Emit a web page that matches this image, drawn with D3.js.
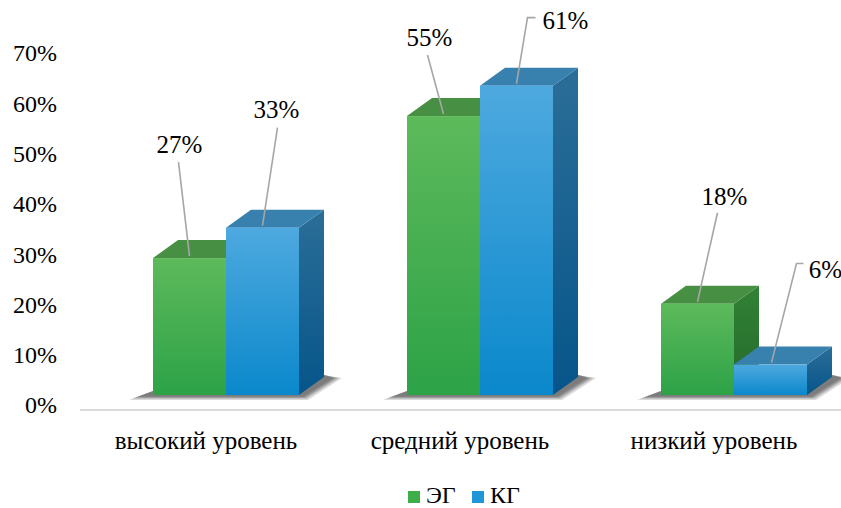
<!DOCTYPE html>
<html><head><meta charset="utf-8">
<script src="https://cdn.jsdelivr.net/npm/d3@7"></script>
</head><body style="margin:0">
<svg id="c" width="841" height="508"></svg>
<script>
const categories = ["высокий уровень", "средний уровень", "низкий уровень"];
const seriesNames = ["ЭГ", "КГ"];
const valuesEG = [27, 55, 18];
const valuesKG = [33, 61, 6];
const valueLabels = [["27%","55%","18%"],["33%","61%","6%"]];
const tickValues = [0,10,20,30,40,50,60,70];

const svg = d3.select("#c");
const W = 841, H = 508;
const depthX = 25, depthY = -18;

const yBar = d3.scaleLinear().domain([0,70]).range([395, 40]);
const yAxis = d3.scaleLinear().domain([0,70]).range([405, 53]);
const xCat = d3.scalePoint().domain(categories).range([226, 734]);
const xSer = d3.scaleBand().domain(seriesNames).range([-73, 73]);

const defs = svg.append("defs");
function grad(id, c1, c2){
  const g = defs.append("linearGradient").attr("id",id).attr("x1",0).attr("y1",0).attr("x2",0).attr("y2",1);
  g.append("stop").attr("offset","0%").attr("stop-color",c1);
  g.append("stop").attr("offset","100%").attr("stop-color",c2);
}
grad("gFront","#5dba5b","#2da247");
grad("bFront","#4ea9df","#0a88cb");
grad("gSide","#318236","#246a2b");
grad("bSide","#2b6e98","#06558a");

const styles = {
  "ЭГ": {front:"url(#gFront)", top:"#478f43", side:"url(#gSide)", legend:"#3cae4a"},
  "КГ": {front:"url(#bFront)", top:"#3881af", side:"url(#bSide)", legend:"#1e96d8"}
};

svg.append("line").attr("x1",80).attr("x2",W).attr("y1",410).attr("y2",410)
  .attr("stroke","#d9d9d9").attr("stroke-width",2);

svg.append("g").selectAll("text").data(tickValues).join("text")
  .style("font-family",'"Liberation Serif"')
  .attr("x",57).attr("y",d=>yAxis(d)).attr("dy","0.35em")
  .attr("text-anchor","end").attr("font-size",24).text(d=>d+"%");

const bars = [];
categories.forEach((c,i)=>{
  bars.push({cat:c, ser:"ЭГ", v:valuesEG[i], lab:valueLabels[0][i], i, s:0});
  bars.push({cat:c, ser:"КГ", v:valuesKG[i], lab:valueLabels[1][i], i, s:1});
});

// soft shadows (layered, no filter)
categories.forEach(c=>{
  const x0 = xCat(c) + xSer("ЭГ"), x1 = xCat(c) + xSer("КГ") + xSer.bandwidth();
  const yb = yBar(0);
  [10,7,5,3,1].forEach(e=>{
    svg.append("path")
      .attr("d",`M${x0-14-e},${yb+1+e*0.4} L${x1+4+e*0.5},${yb+1+e*0.4} L${x1+depthX+8+e},${yb+depthY+1} L${x1+depthX},${yb+depthY-2} L${x1},${yb-4} L${x0},${yb-4} Z`)
      .attr("fill","#333").attr("opacity",0.18);
  });
});

const g = svg.append("g");
bars.forEach(b=>{
  const x0 = xCat(b.cat) + xSer(b.ser), w = xSer.bandwidth();
  const yt = yBar(b.v), yb = yBar(0);
  const st = styles[b.ser];
  g.append("path").attr("d",`M${x0+w},${yt} L${x0+w+depthX},${yt+depthY} L${x0+w+depthX},${yb+depthY} L${x0+w},${yb} Z`).attr("fill",st.side);
  g.append("path").attr("d",`M${x0},${yt} L${x0+depthX},${yt+depthY} L${x0+w+depthX},${yt+depthY} L${x0+w},${yt} Z`).attr("fill",st.top);
  g.append("rect").attr("x",x0).attr("y",yt).attr("width",w).attr("height",yb-yt).attr("fill",st.front);
});

const labelLayout = [
  {s:0,i:0, tx:-10, ty:-114, pts:[[-11,-96],[0,-2]]},
  {s:1,i:0, tx:14, ty:-118, pts:[[15,-100],[0,-2]]},
  {s:0,i:1, tx:-14, ty:-79, pts:[[-16,-61],[0,-2]]},
  {s:1,i:1, tx:49, ty:-65, pts:[[19,-68],[11,-68],[0,-2]]},
  {s:0,i:2, tx:27, ty:-107, pts:[[20,-91],[0,-2]]},
  {s:1,i:2, tx:55, ty:-95, pts:[[33,-101],[26,-101],[1,-2]]}
];
const lg = svg.append("g");
labelLayout.forEach(L=>{
  const b = bars.find(d=>d.s===L.s && d.i===L.i);
  const cx = xCat(b.cat) + xSer(b.ser) + xSer.bandwidth()/2;
  const yt = yBar(b.v);
  lg.append("path").attr("d", d3.line()(L.pts.map(p=>[cx+p[0], yt+p[1]])))
    .attr("fill","none").attr("stroke","#a6a6a6").attr("stroke-width",1.6);
  lg.append("text").style("font-family",'"Liberation Serif"').attr("x",cx+L.tx).attr("y",yt+L.ty).attr("dy","0.35em")
    .attr("text-anchor","middle").attr("font-size",25).text(b.lab);
});

svg.append("g").selectAll("text").data(categories).join("text")
  .style("font-family",'"Liberation Serif"')
  .attr("x",d=>xCat(d)-20).attr("y",449).attr("text-anchor","middle")
  .attr("font-size",25).text(d=>d);

const leg = svg.append("g");
const legX = [408, 472];
seriesNames.forEach((s,k)=>{
  leg.append("rect").attr("x",legX[k]).attr("y",491).attr("width",12).attr("height",12).attr("fill",styles[s].legend);
  leg.append("text").style("font-family",'"Liberation Serif"').attr("x",legX[k]+18).attr("y",503).attr("font-size",24).text(s);
});
</script>
</body></html>
